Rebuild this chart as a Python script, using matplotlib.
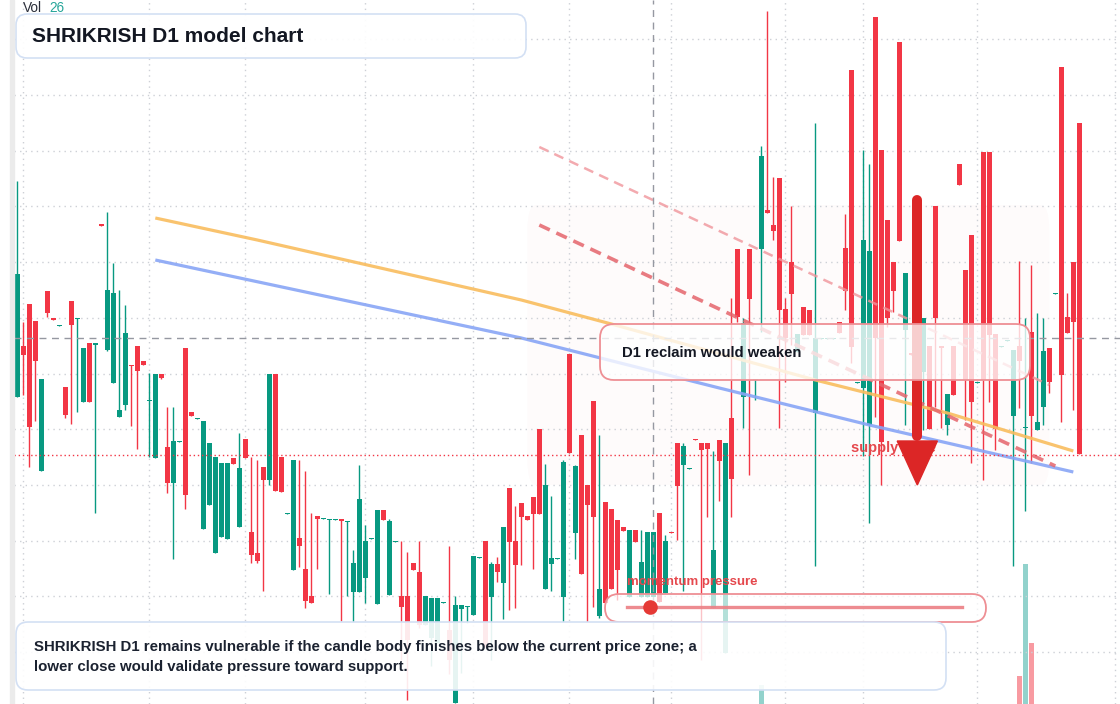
import matplotlib
matplotlib.use("Agg")
import matplotlib.pyplot as plt
from matplotlib.patches import FancyBboxPatch, Polygon, Rectangle
from matplotlib.transforms import IdentityTransform
import numpy as np

plt.rcParams['font.family'] = ['Liberation Sans', 'DejaVu Sans']

# daily candles
opens = [60.3, 65.4, 69.6, 67.9, 52.9, 70.9, 68.2, 67.4, 61.3, 69.9,
         68.1, 59.8, 65.7, 65.55, 77.6, 65.0, 61.7, 58.3, 59.5, 63.5,
         65.4, 63.9, 59.9, 54.2, 62.6, 55.3, 51.7, 55.8, 65.2, 58.8,
         58.1, 47.1, 49.5, 44.7, 46.3, 46.1, 54.2, 47.3, 56.1, 46.8,
         44.7, 53.3, 52.0, 62.6, 54.3, 48.6, 43.0, 46.2, 43.1, 40.4,
         48.4, 48.1, 48.0, 48.0, 48.1, 47.8, 40.8, 40.8, 42.2, 46.1,
         39.6, 49.0, 40.5, 45.8, 40.4, 40.4, 43.7, 42.8, 37.5, 36.2,
         35.7, 39.75, 37.0, 29.7, 39.1, 39.35, 38.5, 44.2, 45.9, 40.3,
         43.6, 41.7, 51.2, 45.9, 49.7, 48.4, 50.3, 57.1, 41.1, 43.6,
         44.1, 40.3, 64.6, 46.7, 56.5, 51.5, 59.9, 38.4, 49.8, 49.1,
         48.0, 47.3, 40.3, 47.0, 40.3, 40.3, 40.3, 48.7, 40.7, 46.8,
         55.7, 53.5, 53.1, 56.15, 55.7, 55.7, 39.2, 56.0, 34.7, 58.2,
         75.1, 60.3, 75.1, 62.0, 75.1, 79.0, 77.5, 82.2, 69.1, 73.8,
         64.8, 69.3, 69.0, 58.7, 66.15, 66.15, 66.15, 67.8, 75.2, 93.0,
         61.7, 61.2, 57.5, 98.3, 85.0, 78.0, 73.8, 95.8, 67.0, 64.65,
         67.0, 62.8, 65.4, 79.4, 65.4, 57.5, 65.4, 83.6, 73.0, 76.5,
         61.7, 84.8, 84.8, 66.6, 65.3, 65.9, 58.4, 65.4, 57.25, 66.8,
         57.0, 59.3, 65.2, 70.6, 93.3, 68.3, 73.8, 87.7]
highs = [81.9, 67.8, 69.6, 67.9, 62.1, 70.9, 68.2, 67.5, 61.3, 69.9,
         68.2, 65.2, 65.7, 65.7, 77.6, 78.8, 73.7, 71.0, 69.5, 63.5,
         65.4, 63.9, 62.7, 62.6, 62.6, 59.3, 59.3, 55.9, 65.2, 58.8,
         58.2, 57.9, 55.7, 54.3, 53.7, 53.7, 54.2, 56.7, 56.1, 54.3,
         54.0, 53.3, 62.6, 62.6, 54.3, 48.7, 54.0, 54.0, 52.9, 48.7,
         48.4, 48.2, 48.1, 48.1, 48.1, 47.9, 45.0, 53.5, 47.5, 46.2,
         49.0, 49.0, 48.1, 45.9, 45.9, 44.8, 43.7, 45.9, 40.4, 40.2,
         40.2, 39.85, 45.4, 40.4, 39.5, 39.45, 44.4, 44.3, 45.9, 43.8,
         44.3, 47.3, 51.2, 49.4, 49.7, 48.4, 50.3, 57.1, 53.6, 50.4,
         44.2, 54.0, 64.6, 53.5, 56.5, 51.5, 59.9, 56.5, 49.8, 49.1,
         48.0, 47.3, 47.0, 47.0, 47.0, 46.8, 46.8, 48.7, 46.5, 46.8,
         55.7, 55.7, 53.2, 56.15, 55.7, 55.7, 54.9, 56.0, 55.7, 70.2,
         75.1, 68.2, 75.1, 62.1, 85.4, 98.9, 82.3, 82.2, 70.2, 79.4,
         66.6, 69.3, 69.0, 87.7, 66.25, 66.25, 66.25, 67.8, 78.6, 93.0,
         61.8, 85.0, 83.6, 98.3, 85.0, 78.0, 73.8, 95.8, 72.7, 64.65,
         67.0, 68.2, 65.4, 79.4, 65.4, 60.6, 65.4, 83.6, 73.0, 76.5,
         61.8, 84.8, 84.8, 66.6, 65.4, 66.0, 65.0, 73.9, 68.2, 73.5,
         68.7, 68.2, 65.2, 70.7, 93.3, 70.7, 73.8, 87.7]
lows = [60.3, 60.5, 53.3, 57.9, 52.9, 68.3, 68.0, 67.4, 58.2, 57.6,
        58.8, 59.8, 59.8, 48.7, 77.4, 64.9, 61.7, 58.3, 59.0, 57.4,
        55.1, 63.5, 54.3, 54.2, 62.1, 50.7, 44.1, 55.8, 49.1, 58.4,
        58.1, 47.1, 49.5, 44.7, 46.3, 46.1, 53.6, 47.3, 54.2, 43.7,
        43.7, 40.9, 51.5, 50.9, 50.8, 48.6, 43.0, 43.3, 39.2, 39.7,
        43.1, 48.1, 40.6, 48.0, 37.9, 40.4, 37.8, 40.8, 39.7, 46.1,
        39.6, 48.0, 40.5, 45.8, 34.0, 30.0, 43.0, 37.2, 37.5, 33.4,
        35.7, 39.75, 32.6, 29.7, 32.7, 37.7, 38.5, 44.2, 35.3, 34.0,
        41.8, 38.1, 39.0, 39.2, 43.5, 48.0, 43.1, 48.6, 41.1, 40.9,
        44.1, 37.8, 54.7, 44.1, 42.6, 37.8, 39.3, 38.2, 39.7, 41.1,
        40.0, 46.9, 40.3, 45.8, 40.3, 40.3, 40.3, 39.8, 40.7, 46.7,
        46.0, 40.9, 53.1, 56.05, 34.0, 48.3, 39.2, 49.9, 34.7, 48.3,
        67.8, 57.2, 52.5, 60.0, 66.8, 78.7, 76.0, 57.2, 61.8, 65.5,
        64.8, 66.5, 66.5, 43.4, 66.15, 66.15, 66.15, 66.7, 69.0, 63.7,
        61.7, 54.4, 47.7, 58.3, 51.5, 67.3, 68.8, 75.9, 57.5, 64.55,
        64.0, 57.0, 57.1, 59.3, 57.2, 56.5, 60.5, 81.5, 58.0, 53.7,
        61.7, 52.0, 59.8, 55.0, 65.3, 65.9, 43.4, 59.2, 48.9, 53.7,
        57.0, 57.5, 60.7, 70.6, 57.8, 66.7, 59.0, 54.6]
closes = [72.6, 64.5, 57.3, 63.9, 62.1, 68.7, 68.0, 67.5, 58.5, 67.5,
          68.2, 65.2, 59.8, 65.65, 77.4, 71.0, 70.7, 59.0, 66.7, 63.4,
          62.9, 63.5, 60.0, 62.6, 62.2, 51.7, 55.9, 55.9, 50.5, 58.4,
          58.2, 57.9, 55.7, 54.3, 53.7, 53.7, 53.6, 53.2, 54.2, 44.5,
          43.9, 52.0, 62.6, 50.9, 50.8, 48.7, 54.0, 45.4, 39.9, 39.7,
          48.1, 48.2, 48.1, 48.1, 47.9, 47.9, 43.7, 50.1, 45.9, 46.2,
          49.0, 48.0, 47.9, 45.9, 39.3, 36.0, 43.0, 37.5, 40.4, 40.2,
          40.2, 39.85, 34.0, 39.5, 39.5, 39.45, 44.4, 44.3, 35.3, 43.6,
          42.8, 47.3, 45.8, 43.5, 48.3, 48.0, 48.6, 48.6, 51.5, 44.2,
          44.2, 53.8, 54.7, 53.4, 42.6, 49.5, 48.3, 41.1, 39.7, 41.1,
          43.0, 46.9, 47.0, 45.8, 43.8, 46.8, 46.8, 39.8, 45.9, 46.7,
          51.4, 55.4, 53.2, 56.05, 55.0, 55.1, 45.0, 53.9, 55.7, 52.1,
          68.3, 67.7, 70.1, 62.1, 84.4, 78.7, 76.9, 69.0, 66.2, 70.6,
          66.6, 66.5, 66.5, 66.2, 66.25, 66.25, 66.25, 66.7, 70.9, 65.3,
          61.8, 76.0, 74.9, 66.2, 55.8, 68.2, 70.9, 75.9, 72.7, 64.55,
          64.0, 68.2, 57.1, 68.2, 65.25, 60.6, 60.5, 81.5, 62.0, 59.8,
          61.8, 62.0, 66.5, 57.1, 65.4, 66.0, 65.0, 63.9, 57.35, 58.4,
          57.8, 64.9, 61.8, 70.7, 62.5, 66.7, 67.8, 54.6]

# volume bars that show above the lower panel, plus the last bar's volume
vol_idx = [124, 167, 168, 169]
vol_val = [190, 280, 1400, 610]
vol_last = 26

# moving averages, sampled along the curves
ma_fast_x = [23, 40, 84, 99, 133, 155, 176]
ma_fast_y = [78.2, 76.0, 70.0, 67.6, 62.0, 58.7, 54.9]
ma_slow_x = [23, 84, 117, 142, 176]
ma_slow_y = [74.0, 66.2, 61.2, 57.5, 52.8]

# falling channel
chan_x = [87, 172]
chan_top = [85.3, 61.5]
chan_mid_x = [87, 173]
chan_mid = [77.5, 53.4]

last_price = 66.2
supply_level = 54.55
cursor_idx = 106
zone_x = [85, 172]
zone_y = [51.5, 79.5]
arrow_x = 150
arrow_from, arrow_head, arrow_to = 80.0, 55.9, 51.5

grid_prices = [96.07, 90.5, 84.93, 79.36, 73.79, 68.22, 62.65, 57.08, 51.51, 45.94, 40.37, 34.8]
grid_idx = [1, 22, 38, 58, 76, 92, 109, 128, 141, 160, 183]

GREEN = '#089981'
RED = '#f23645'
W, H = 1120, 704

o = np.array(opens); h = np.array(highs); l = np.array(lows); c = np.array(closes)
idx = np.arange(len(o))
up = c >= o
cols = np.where(up, GREEN, RED)

fig = plt.figure(figsize=(11.2, 7.04), dpi=100)
fig.patch.set_facecolor('white')
fig.patches.append(Rectangle((10 / W, 0), 4 / W, 1, transform=fig.transFigure,
                             color='#ebebeb', zorder=0))
rect = [14 / W, 0, 1 - 14 / W, 1]
xlim = (-0.55, 183.78)

axv = fig.add_axes(rect)
vol = np.zeros(len(o))
vol[vol_idx] = vol_val
axv.bar(idx, vol, width=0.78, color=np.where(up, '#26a69a', RED), alpha=0.5, linewidth=0)
axv.set_xlim(*xlim)
axv.set_ylim(0, 7040)
axv.axis('off')

ax = fig.add_axes(rect)
ax.patch.set_alpha(0)
ax.set_xlim(*xlim)
ax.set_ylim(29.6, 100)
ax.set_yticks(grid_prices)
ax.set_xticks(grid_idx)
ax.grid(True, color='#cdd0d6', lw=1, ls=(0, (1, 3)), zorder=0)
ax.tick_params(length=0, labelleft=False, labelbottom=False)
for s in ax.spines.values():
    s.set_visible(False)

ax.add_patch(FancyBboxPatch((zone_x[0], zone_y[0]), zone_x[1] - zone_x[0], zone_y[1] - zone_y[0],
                            boxstyle='round,pad=0,rounding_size=1.5', mutation_aspect=1.7,
                            facecolor=RED, alpha=0.018, edgecolor='none', zorder=1))

ax.vlines(idx, l, h, colors=cols, lw=1, zorder=3)
ax.bar(idx, np.maximum(np.abs(c - o), 0.1), bottom=np.minimum(o, c), width=0.78,
       color=cols, linewidth=0, zorder=4)

ax.plot(ma_fast_x, ma_fast_y, color='#f9bd5e', lw=2.3, alpha=0.9, zorder=5,
        solid_capstyle='butt')
ax.plot(ma_slow_x, ma_slow_y, color='#88a5f6', lw=2.3, alpha=0.9, zorder=5,
        solid_capstyle='butt')
ax.plot(chan_x, chan_top, color='#f0959b', lw=1.8, alpha=0.8, dashes=(4, 2.6), zorder=5)
ax.plot(chan_mid_x, chan_mid, color='#e5656c', lw=2.6, alpha=0.85, dashes=(3.2, 2), zorder=5)

ax.axhline(last_price, color='#9598a1', lw=1, dashes=(5, 4), zorder=6)
ax.axvline(cursor_idx, color='#9598a1', lw=1, dashes=(5, 4), zorder=6)
ax.axhline(supply_level, color=RED, lw=1, ls=(0, (1, 2)), zorder=6)

px = IdentityTransform()


def box(x0, y0, x1, y1, r, face, edge, z, lw=1.2):
    ax.add_patch(FancyBboxPatch((x0, H - y1), x1 - x0, y1 - y0,
                                boxstyle=f'round,pad=0,rounding_size={r}',
                                facecolor=face, edgecolor=edge, lw=lw,
                                transform=px, clip_on=False, zorder=z))


ax.text(851, H - 448, 'supply zone', transform=px, color='#e5484d', fontsize=10.5,
        fontweight='bold', va='center', ha='left', zorder=7)

ax.plot([arrow_x, arrow_x], [arrow_from, arrow_head + 0.5], color='#dc2626', lw=7.2,
        solid_capstyle='round', zorder=8)
ax.add_patch(Polygon([(arrow_x - 3.35, arrow_head), (arrow_x + 3.35, arrow_head),
                      (arrow_x, arrow_to)], closed=True, color='#dc2626', zorder=8))

box(600, 324, 1030, 380, 14, (1, 1, 1, 0.78), '#ee8f94', 9, lw=1.3)
ax.text(622, H - 353, 'D1 reclaim would weaken', transform=px, fontsize=10.7,
        fontweight='bold', color='#131722', va='center', zorder=10)

ax.text(627, H - 582, 'momentum pressure', transform=px, fontsize=9.5,
        fontweight='bold', color='#e5484d', va='center', zorder=10)
box(605, 594, 986, 622, 14, (1, 1, 1, 0.7), '#ee8f94', 9, lw=1.3)
ax.plot([627, 962], [H - 607, H - 607], transform=px, color='#ec7f84', lw=2.4,
        alpha=0.9, clip_on=False, zorder=10)
ax.plot([650], [H - 607], 'o', transform=px, color='#e53935', ms=10.5, mew=0,
        clip_on=False, zorder=11)

box(16, 14, 526, 58, 11, (1, 1, 1, 0.92), '#d3e0f4', 9)
ax.text(32, H - 36, 'SHRIKRISH D1 model chart', transform=px, fontsize=15,
        fontweight='bold', color='#131722', va='center', zorder=10)

box(16, 622, 946, 690, 12, (1, 1, 1, 0.9), '#d3e0f4', 9)
ax.text(34, H - 647, 'SHRIKRISH D1 remains vulnerable if the candle body finishes below the current price zone; a',
        transform=px, fontsize=10.8, fontweight='bold', color='#1b2230', va='center', zorder=10)
ax.text(34, H - 667, 'lower close would validate pressure toward support.',
        transform=px, fontsize=10.8, fontweight='bold', color='#1b2230', va='center', zorder=10)

ax.text(23, H - 8.5, 'Vol', transform=px, fontsize=9.8, color='#2a2e39', va='center', zorder=10)
ax.text(49, H - 8.5, str(vol_last), transform=px, fontsize=9.8, color='#26a69a',
        va='center', zorder=10)

fig.savefig('out.png', dpi=100)
